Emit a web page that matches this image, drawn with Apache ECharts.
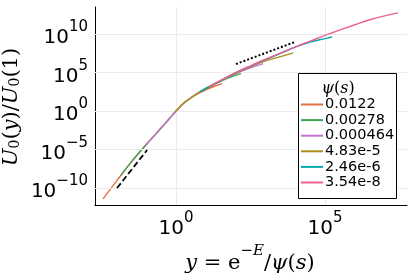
<!DOCTYPE html>
<html><head><meta charset="utf-8">
<script src="https://cdn.jsdelivr.net/npm/echarts@6/dist/echarts.min.js"></script>
<style>html,body{margin:0;padding:0;background:#fff}#c{width:415px;height:277px}</style>
</head><body><div id="c"></div>
<script>
// All values are log10 of the plotted quantities: [log10 y, log10 U0(y)/U0(1)]
const xTickExps = [0, 5];
const yTickExps = [-10, -5, 0, 5, 10];
const psiLabels = ['0.0122', '0.00278', '0.000464', '4.83e-5', '2.46e-6', '3.54e-8'];
const psi0122 = [[-2.45,-11.4],[-2.0,-9.1],[-1.5,-6.6],[-1.0,-4.35],[-0.5,-2.2],[-0.25,-1.1],[0,0],[0.25,1.0],[0.5,1.7],[0.75,2.28],[1.0,2.75],[1.25,3.15],[1.54,3.55]];
const psi00278 = [[-1.85,-8.35],[-1.5,-6.6],[-1.0,-4.35],[-0.5,-2.2],[-0.25,-1.1],[0,0],[0.25,1.0],[0.5,1.72],[0.75,2.35],[1.0,2.9],[1.5,3.85],[1.85,4.45],[2.18,4.85]];
const psi000464 = [[-1.03,-4.5],[-0.5,-2.2],[-0.25,-1.1],[0,0],[0.25,1.0],[0.5,1.72],[0.75,2.37],[1.0,2.93],[1.5,3.92],[2.0,4.85],[2.5,5.6],[2.92,6.15]];
const psi483e5 = [[-0.04,-0.17],[0.25,1.0],[0.5,1.72],[0.75,2.37],[1.0,2.95],[1.5,3.93],[2.0,4.9],[2.5,5.75],[3.0,6.5],[3.5,7.05],[3.93,7.55]];
const psi246e6 = [[0.8,2.48],[1.0,2.95],[1.5,3.95],[2.0,4.95],[2.5,5.83],[3.0,6.67],[3.5,7.47],[4.0,8.28],[4.5,8.95],[5.0,9.4],[5.23,9.6]];
const psi354e8 = [[1.1,3.15],[1.5,3.97],[2.0,4.97],[2.5,5.87],[3.0,6.72],[3.5,7.52],[4.0,8.32],[4.5,9.07],[5.0,9.82],[5.5,10.52],[6.0,11.2],[6.5,11.85],[7.0,12.35],[7.45,12.73]];
const dashedRef = [[-1.98,-10.0],[-0.97,-5.06]];
const dottedRef = [[2.01,6.1],[3.99,8.96]];

const curves = [psi0122, psi00278, psi000464, psi483e5, psi246e6, psi354e8];
const colors = ['#E36F47', '#3EA44E', '#C371D2', '#AC8E18', '#00AAAE', '#ED5E93'];
const sansF = 'DejaVu Sans';
const serifF = 'DejaVu Serif';
const expStr = v => (v < 0 ? '\u2212' + (-v) : String(v));
const tickRich = {
  b: {fontSize: 20, fontFamily: sansF, color: '#000', padding: [8, 0, 0, 0]},
  s: {fontSize: 15, fontFamily: sansF, color: '#000', verticalAlign: 'top'}
};

const series = [];
// grid lines at the decade ticks
series.push({name: 'grid', type: 'line', data: [], silent: true, z: 1,
  markLine: {silent: true, symbol: 'none', label: {show: false}, animation: false,
    lineStyle: {color: '#ebebeb', width: 1, type: 'solid'},
    data: xTickExps.map(v => ({xAxis: v})).concat(yTickExps.map(v => ({yAxis: v})))}});
curves.forEach((d, i) => series.push({
  name: psiLabels[i], type: 'line', data: d, smooth: 0.4, symbol: 'none',
  lineStyle: {width: 1.4, color: colors[i]}, itemStyle: {color: colors[i]}, z: 3 + i
}));
series.push({name: 'dash', type: 'line', data: dashedRef, symbol: 'none',
  lineStyle: {width: 1.8, color: '#000', type: [6, 3]}, z: 10});
series.push({name: 'dot', type: 'line', data: dottedRef, symbol: 'none',
  lineStyle: {width: 2, color: '#000', type: [2, 2]}, z: 10});

const chart = echarts.init(document.getElementById('c'), null, {renderer: 'canvas'});
chart.setOption({
  animation: false,
  backgroundColor: '#fff',
  grid: {left: 95, right: 8, top: 7, bottom: 72, containLabel: false},
  xAxis: {
    type: 'value', min: -2.72, max: 7.75,
    axisLine: {show: true, onZero: false, lineStyle: {color: '#000', width: 1}},
    axisTick: {show: true, inside: true, length: 4, customValues: xTickExps, lineStyle: {color: '#000'}},
    axisLabel: {customValues: xTickExps, margin: 6, formatter: v => '{b|10}{s|' + expStr(v) + '}', rich: tickRich},
    splitLine: {show: false}
  },
  yAxis: {
    type: 'value', min: -12.2, max: 13.5,
    axisLine: {show: true, onZero: false, lineStyle: {color: '#000', width: 1}},
    axisTick: {show: true, inside: true, length: 4, customValues: yTickExps, lineStyle: {color: '#000'}},
    axisLabel: {customValues: yTickExps, margin: 7, formatter: v => '{b|10}{s|' + expStr(v) + '}', rich: tickRich},
    splitLine: {show: false}
  },
  legend: {
    data: psiLabels, orient: 'vertical', left: 301, top: 97,
    icon: 'rect', itemWidth: 22, itemHeight: 2, itemGap: 0.6, padding: 0,
    textStyle: {fontSize: 14.5, lineHeight: 15, fontFamily: sansF, color: '#000', padding: [0, 0, 0, -3]},
    z: 20
  },
  graphic: [
    {type: 'rect', shape: {x: 298.5, y: 73.5, width: 98, height: 125}, style: {fill: '#fff', stroke: '#000', lineWidth: 1}, z: 15},
    {type: 'text', x: 338, y: 89, z: 21, style: {text: '{i|\u03c8}{n|(}{i|s}{n|)}', align: 'center', verticalAlign: 'middle',
      rich: {i: {fontSize: 16, fontFamily: serifF, fontStyle: 'italic', fill: '#000'}, n: {fontSize: 16, fontFamily: serifF, fill: '#000'}}}},
    {type: 'text', x: 12, y: 107, rotation: Math.PI / 2, z: 21, style: {
      text: '{i|U}{sub|0}{n|(}{i|y}{n|)/}{i|U}{sub|0}{n|(1)}', align: 'center', verticalAlign: 'middle',
      rich: {i: {fontSize: 21, fontFamily: serifF, fontStyle: 'italic', fill: '#000'},
             n: {fontSize: 21, fontFamily: serifF, fill: '#000'},
             sub: {fontSize: 14, fontFamily: serifF, fill: '#000', verticalAlign: 'bottom'}}}},
    {type: 'text', x: 250, y: 259, z: 21, style: {
      text: '{i|y}{n| = e}{sup|\u2212E}{n|/}{i|\u03c8}{n|(}{i|s}{n|)}', align: 'center', verticalAlign: 'middle',
      rich: {i: {fontSize: 21, fontFamily: serifF, fontStyle: 'italic', fill: '#000', padding: [10, 0, 0, 0]},
             n: {fontSize: 21, fontFamily: serifF, fill: '#000', padding: [10, 0, 0, 0]},
             sup: {fontSize: 15, fontFamily: serifF, fontStyle: 'italic', fill: '#000', verticalAlign: 'top'}}}}
  ],
  series: series
});
</script></body></html>
